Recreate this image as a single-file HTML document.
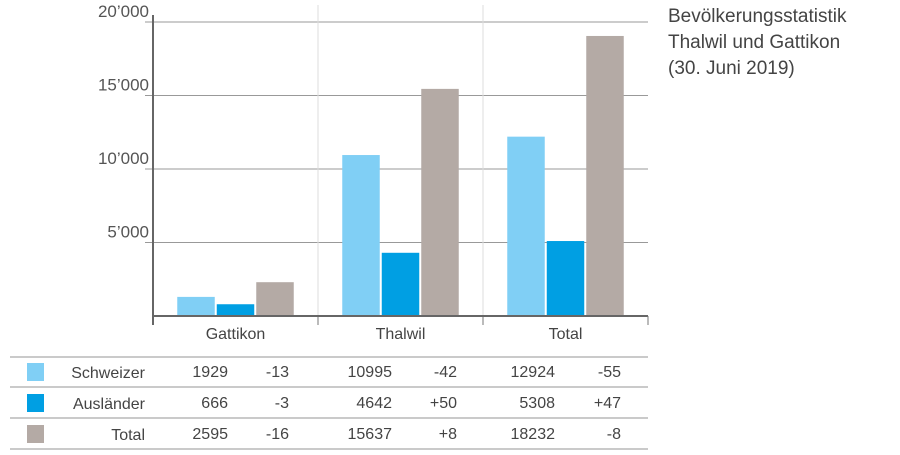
<!DOCTYPE html>
<html><head><meta charset="utf-8"><style>
body{margin:0;background:#fff;width:900px;height:450px;overflow:hidden;font-family:"Liberation Sans",sans-serif;}
</style></head><body>
<svg width="900" height="450" font-family="Liberation Sans, sans-serif">
<g id="grid"></g><g id="bars"></g><g id="axes"></g><g id="table"></g>
<text x="668" y="22" font-size="19" fill="#444"><tspan x="668">Bevölkerungsstatistik</tspan><tspan x="668" dy="26">Thalwil und Gattikon</tspan><tspan x="668" dy="26">(30. Juni 2019)</tspan></text>
</svg>
<script>
const categories=["Gattikon","Thalwil","Total"];
const seriesNames=["Schweizer","Ausländer","Total"];
const schweizer=[1300,10950,12200];
const auslaender=[800,4300,5100];
const totals=[2300,15450,19050];
const yTicks=[5000,10000,15000,20000];
const yTickLabels=["5’000","10’000","15’000","20’000"];
const tableValues=[["1929","-13","10995","-42","12924","-55"],["666","-3","4642","+50","5308","+47"],["2595","-16","15637","+8","18232","-8"]];
const colors=["#80cff5","#009fe3","#b4aaa5"];
const NS="http://www.w3.org/2000/svg";
const x0=153,x1=648,y0=316,yTop=22,maxV=20000;
const groupW=(x1-x0)/categories.length;
function yS(v){return y0-(v/maxV)*(y0-yTop);}
function mk(p,t,a,txt){const e=document.createElementNS(NS,t);for(const k in a)e.setAttribute(k,a[k]);if(txt!==undefined)e.textContent=txt;p.appendChild(e);return e;}
const G=document.getElementById('grid'),B=document.getElementById('bars'),A=document.getElementById('axes'),T=document.getElementById('table');
yTicks.forEach((v,i)=>{const y=yS(v);
 const l=mk(G,'line',{x1:x0-8,x2:x1,y1:y,y2:y,stroke:'#999','stroke-width':1});
 
 
 const t=mk(A,'text',{x:x0-4,y:y-5,'text-anchor':'end','font-size':17,fill:'#555'},yTickLabels[i]);
 
 
});
for(let i=1;i<categories.length;i++){const x=x0+groupW*i;
 const l=mk(G,'line',{x1:x,x2:x,y1:5,y2:y0,stroke:'#ddd','stroke-width':1});
 
 
 const tk=mk(A,'line',{x1:x,x2:x,y1:y0,y2:y0+9,stroke:'#777','stroke-width':1});
 
 
}
const series=[schweizer,auslaender,totals];
const bw=37.5,gap=2;
categories.forEach((c,ci)=>{const gx=x0+groupW*ci+(groupW-(3*bw+2*gap))/2;
 series.forEach((s,si)=>{const y=yS(s[ci]);
  const r=mk(B,'rect',{x:gx+si*(bw+gap),y:y,width:bw,height:y0-y,fill:colors[si]});
  
  
 });
 const t=mk(A,'text',{x:x0+groupW*(ci+0.5),y:339,'text-anchor':'middle','font-size':16,fill:'#444'},c);
 
 
});
const ax=mk(A,'line',{x1:x0,x2:x0,y1:15,y2:y0+9,stroke:'#666','stroke-width':2});


const bx=mk(A,'line',{x1:x0,x2:x1,y1:y0,y2:y0,stroke:'#666','stroke-width':2});


const ek=mk(A,'line',{x1:x1,x2:x1,y1:y0,y2:y0+9,stroke:'#777','stroke-width':1});


[357,387,418,449].forEach(y=>{const l=mk(T,'line',{x1:10,x2:648,y1:y,y2:y,stroke:'#aaa','stroke-width':1.2});
 
 });
const colR=[228,289,392,457,555,621];
seriesNames.forEach((n,ri)=>{const cy=372+ri*31;
 const sw=mk(T,'rect',{x:27,y:cy-9,width:17,height:18,fill:colors[ri]});
 
 
 const lb=mk(T,'text',{x:145,y:cy+6,'text-anchor':'end','font-size':16,fill:'#444'},n);
 
 
 tableValues[ri].forEach((v,ci)=>{const t=mk(T,'text',{x:colR[ci],y:cy+5,'text-anchor':'end','font-size':16,fill:'#444'},v);
  
  });
});
</script>
</body></html>
